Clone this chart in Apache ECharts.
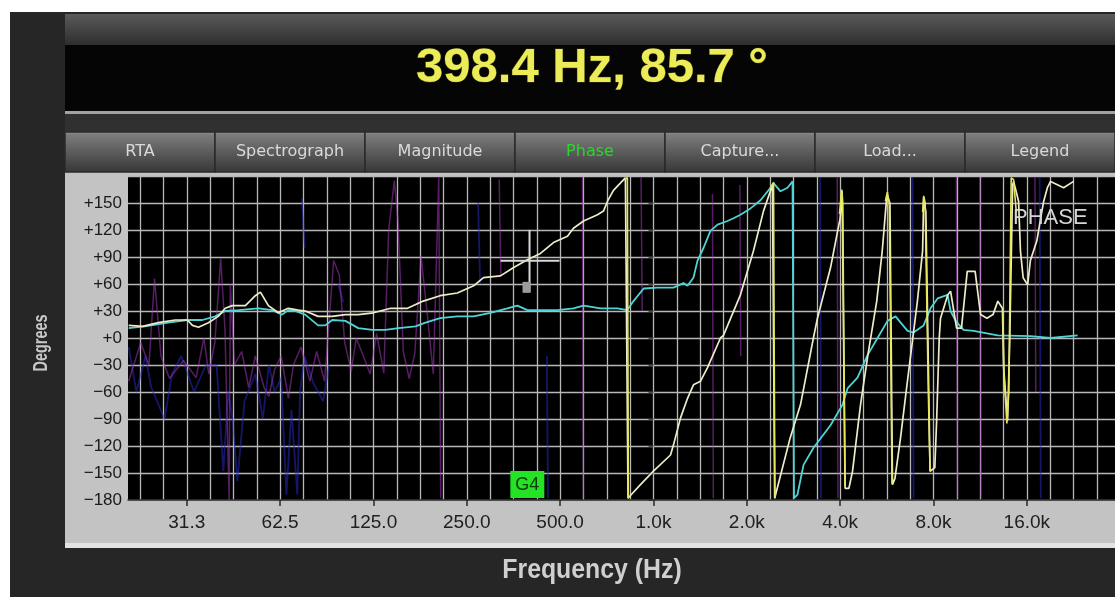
<!DOCTYPE html>
<html>
<head>
<meta charset="utf-8">
<script src="https://cdn.jsdelivr.net/npm/echarts@6/dist/echarts.min.js"></script>
<style>
  html, body { margin: 0; padding: 0; background: #ffffff; }
  #chart { width: 1115px; height: 597px; }
</style>
</head>
<body>
<div id="chart"></div>
<script>
// Cursor readout and note marker
const cursorHz = 398.4;
const cursorDeg = 85.7;
const noteHz = 392.0;
const noteName = 'G4';

// Analyzer view tabs
const tabNames = ['RTA', 'Spectrograph', 'Magnitude', 'Phase', 'Capture...', 'Load...', 'Legend'];
const activeTab = 'Phase';

// Frequency axis (Hz) and its labels
const freqMin = 20.2;
const freqMax = 30800;
const freqLabelHz = [31.25, 62.5, 125, 250, 500, 1000, 2000, 4000, 8000, 16000];
const freqLabels = ['31.3', '62.5', '125.0', '250.0', '500.0', '1.0k', '2.0k', '4.0k', '8.0k', '16.0k'];

// Phase axis (degrees)
const degMin = -180;
const degMax = 180;
const degStep = 30;

// Phase traces: [frequency Hz, phase degrees]; null phase breaks the line
const traceCream = [
  [20.3, 14], [22.5, 13], [25.3, 17], [28.7, 20], [31.4, 20], [32.6, 14], [34.1, 12], [36.7, 17],
  [39.5, 24], [41.6, 33], [43.8, 36], [48.3, 36], [52, 47], [54, 51], [57.3, 36], [61.7, 28],
  [66.4, 33], [71.5, 31], [75.3, 30], [82.9, 24], [92, 24], [101.5, 26], [111.7, 26], [125, 28],
  [142, 33], [161, 33], [181, 41], [205, 47], [233, 50], [263, 58], [283, 67], [321, 69],
  [353, 78], [392, 87], [432, 94], [476, 106], [528, 113], [552, 122], [595, 130], [660, 137],
  [690, 141], [711, 152], [743, 164], [782, 172], [812, 178], [824, 178], [828, -178], [843, -175],
  [908, -163], [1000, -148], [1135, -130], [1160, -119], [1222, -89], [1288, -67], [1346, -52],
  [1418, -48], [1494, -33], [1645, 0], [1682, 3], [1908, 48], [2102, 97], [2264, 141], [2420, 170],
  [2440, 172], [2460, -178],
  [2760, -111], [2981, -74], [3280, 0], [3380, 22], [3724, 78], [4000, 133], [4060, 163], [4150, -167],
  [4270, -167], [4386, -148], [4655, -74], [4915, -19], [5250, 41], [5470, 97], [5660, 159], [5790, 150], [5900, -163],
  [6010, -156], [6264, -111], [6550, -56], [7100, 41], [7380, 97], [7440, 156], [7560, 140], [7800, -148],
  [8080, -144], [8190, -92], [8350, 0], [8430, 22], [8900, 48], [9083, 52], [9500, 11], [9850, 11],
  [10280, 74], [10900, 74], [11350, 26], [11900, 22], [12450, 26], [12900, 41], [13350, 33], [13470, -33],
  [13870, -92], [14100, 0], [14400, 170], [14510, 174], [15050, 152], [15260, 97], [15570, 67], [16100, 59],
  [16430, 86], [17240, 108], [17730, 133], [18140, 152], [18640, 167], [19090, 174], [21030, 167], [22650, 174]
];

const traceCyan = [
  [20.3, 11], [22.9, 13], [27.2, 17], [31.4, 20], [35.1, 20], [38.6, 24], [41.6, 30], [45.9, 31],
  [53.2, 33], [59, 31], [63.5, 26], [66.4, 31], [69.9, 30], [75.3, 26], [82.9, 14], [87.4, 14],
  [92, 20], [101.5, 19], [111.7, 11], [124, 9], [136.6, 9], [150.6, 11], [170.8, 13], [184, 17],
  [205, 22], [233, 24], [263, 24], [298, 28], [338, 33], [364, 36], [392, 31], [432, 31],
  [490, 31], [552, 33], [595, 36], [675, 33], [765, 33], [824, 31], [862, 41], [930, 55],
  [1030, 56], [1160, 56], [1250, 61], [1287, 58], [1346, 67], [1387, 86], [1450, 100], [1527, 119],
  [1609, 126], [1733, 130], [1812, 133], [1908, 137], [2056, 144], [2214, 153], [2385, 167], [2439, 172],
  [2569, 163], [2706, 167], [2809, 174], [2840, -178], [2914, -174], [3048, -141], [3283, -122],
  [3724, -97], [4073, -74], [4226, -56], [4551, -44], [4903, -19], [5281, 0], [5688, 19], [6036, 24],
  [6600, 8], [6900, 6], [7433, 14], [7829, 33], [8248, 44], [8883, 48], [9083, 30], [9430, 19],
  [10000, 9], [10780, 8], [12880, 3], [16460, 2], [19090, 0], [23330, 3]
];

// Bright yellow trace: only its wrap segments show above the others
const traceYellow = [
  [805, 176], [824, 178], [826, 60], [830, -178], [831, null],
  [2380, 166], [2440, 173], [2450, 0], [2465, -178], [2466, null],
  [3980, 138], [4050, 165], [4080, 150], [4110, 0], [4150, -165], [4160, null],
  [5600, 152], [5680, 162], [5760, 150], [5820, 0], [5880, -162], [5890, null],
  [7380, 140], [7440, 158], [7520, 150], [7700, -60], [7800, -148], [7810, null],
  [13400, 30], [13500, -40], [13800, -95], [14000, -60], [14250, 178], [14500, 176], [14800, 140]
];

// Noisy background traces
const traceMagenta = [
  [20.3, -48], [22.2, -5], [23.6, -30], [24.6, 66], [25.8, -20], [27.5, -45], [30.5, -25], [33.5, -44],
  [35.5, 0], [36.8, -40], [38.5, -5], [40.2, 88], [41.5, 10], [42.8, -180], [43.2, 60], [44.5, -30],
  [47, -15], [49.5, -55], [52, -20], [55.5, -55], [57.5, -65], [60, -35], [63, -20], [66.5, -67],
  [69, -30], [73, -10], [78, -48], [82, -15], [87, -48], [93, 86], [97, 70], [101, -5], [106, -37],
  [110, 0], [116, -20], [122, -40], [128, 5], [135, -39], [140, 120], [146, 175], [150, 130],
  [156, -15], [163, -45], [170, -17], [178, 91], [186, 30], [195, -40], [203, 178], [206, -178], [207, null],
  [318, 176], [322, 70], [323, null],
  [590, 178], [594, -178], [595, null],
  [912, 178], [920, 30], [921, null],
  [1550, 160], [1560, -178], [1561, null],
  [1900, 170], [1912, -20], [1913, null],
  [3915, 178], [3935, -178], [3936, null],
  [9480, 178], [9560, -178], [9561, null],
  [11300, 178], [11380, -178], [11381, null],
  [17000, 178], [17100, -60]
];

const traceBlue = [
  [20.3, -10], [21.5, -60], [23, -20], [24, -55], [26.5, -90], [28, -40], [30, -20], [33, -60],
  [36, -30], [39, -30], [41, -148], [42.5, -60], [44, -92], [45.5, -159], [48, -70], [52, -40],
  [55, -90], [57.5, -30], [60, -60], [63, -44], [65.5, -174], [68, -80], [71, -174], [72.5, -60],
  [75, -20], [80, -50], [86, -70], [90, -30], [91, null],
  [73.5, 155], [75, 100], [75.5, null],
  [96, 60], [100, 40], [101, null],
  [272, 150], [276, 60], [277, null],
  [453, -20], [457, -178], [458, null],
  [3450, 178], [3470, -178], [3471, null],
  [6850, 178], [6900, -178], [6901, null],
  [17600, 178], [17750, -178]
];

// The frequency axis is laid out in octaves relative to 1 kHz
const oct = hz => Math.log2(hz / 1000);
const toAxis = arr => arr.map(p => [oct(p[0]), p[1]]);

const xMin = oct(freqMin);
const xMax = oct(freqMax);
const labelOct = freqLabelHz.map(oct);
const gridOct = [];
for (let k = Math.ceil(xMin * 4); k / 4 <= xMax; k++) gridOct.push(k / 4);

const fmtFreq = v => {
  const i = labelOct.findIndex(o => Math.abs(o - v) < 1e-6);
  return i >= 0 ? freqLabels[i] : '';
};
const fmtDeg = v => (v >= 0 ? '+' + v : '\u2212' + (-v));

// Layout of the plot window
const plot = { left: 128, top: 176, width: 987, height: 324 };

const chart = echarts.init(document.getElementById('chart'), null, { renderer: 'canvas' });

// Window chrome
const chrome = [
  { type: 'rect', z: -20, shape: { x: 10, y: 12, width: 1105, height: 585 }, style: { fill: '#262626' } },
  { type: 'rect', z: -19, shape: { x: 65, y: 14, width: 1050, height: 31 },
    style: { fill: new echarts.graphic.LinearGradient(0, 0, 0, 1, [
      { offset: 0, color: '#5a5a5a' }, { offset: 1, color: '#2e2e2e' }]) } },
  { type: 'rect', z: -19, shape: { x: 65, y: 45, width: 1050, height: 66 }, style: { fill: '#050505' } },
  { type: 'rect', z: -19, shape: { x: 65, y: 111, width: 1050, height: 3 }, style: { fill: '#a2a2a2' } },
  { type: 'rect', z: -19, shape: { x: 65, y: 114, width: 1050, height: 18 }, style: { fill: '#303030' } },
  { type: 'rect', z: -19, shape: { x: 65, y: 172, width: 1050, height: 372 }, style: { fill: '#c3c3c3' } },
  { type: 'rect', z: -19, shape: { x: 65, y: 543, width: 1050, height: 5 }, style: { fill: '#e2e2e2' } },
  { type: 'rect', z: -18, shape: { x: plot.left, y: plot.top, width: plot.width, height: plot.height }, style: { fill: '#000000' } },
  { type: 'text', z: 20, style: {
      text: cursorHz.toFixed(1) + ' Hz, ' + cursorDeg.toFixed(1) + ' \u00b0',
      x: 592, y: 68, align: 'center', verticalAlign: 'middle',
      font: 'bold 49px "Liberation Sans", Arial, sans-serif', fill: '#ecec58',
      stroke: '#3a3a10', lineWidth: 1 } },
  { type: 'text', z: 20, x: 592, y: 571, scaleX: 0.92, style: {
      text: 'Frequency (Hz)', x: 0, y: 0, align: 'center', verticalAlign: 'middle',
      font: 'bold 27px "Liberation Sans", Arial, sans-serif', fill: '#cfcfcf' } },
  { type: 'text', z: 20, x: 41, y: 343, rotation: Math.PI / 2, scaleX: 0.72, style: {
      text: 'Degrees', x: 0, y: 0, align: 'center', verticalAlign: 'middle',
      font: 'bold 20px "Liberation Sans", Arial, sans-serif', fill: '#c8c8c8' } },
  { type: 'text', z: 20, style: {
      text: 'PHASE', x: 1013, y: 218, align: 'left', verticalAlign: 'middle',
      font: '22px "Liberation Sans", Arial, sans-serif', fill: '#d6d6d6' } }
];

const tabW = 1050 / tabNames.length;
tabNames.forEach((name, i) => {
  const x0 = 65 + i * tabW;
  chrome.push({ type: 'rect', z: -19, shape: { x: x0, y: 132, width: tabW, height: 40 },
    style: { fill: new echarts.graphic.LinearGradient(0, 0, 0, 1, [
      { offset: 0, color: '#9a9a9a' }, { offset: 0.08, color: '#7c7c7c' },
      { offset: 0.55, color: '#585858' }, { offset: 1, color: '#363636' }]),
      stroke: '#2a2a2a', lineWidth: 1.5 } });
  chrome.push({ type: 'text', z: 20, style: {
    text: name, x: x0 + tabW / 2, y: 152, align: 'center', verticalAlign: 'middle',
    font: '16px "DejaVu Sans", sans-serif', fill: name === activeTab ? '#2ad62a' : '#dadada' } });
});

const lineSeries = (name, data, color, width, z, opacity) => ({
  name, type: 'line', data: toAxis(data), xAxisIndex: 0, yAxisIndex: 0,
  showSymbol: false, symbol: 'none', connectNulls: false, z, silent: true,
  lineStyle: { color, width, opacity: opacity == null ? 1 : opacity },
  emphasis: { disabled: true }
});

const option = {
  animation: false,
  backgroundColor: 'transparent',
  graphic: { elements: chrome },
  grid: { left: plot.left, top: plot.top, width: plot.width, height: plot.height, show: false },
  xAxis: [
    {
      type: 'value', min: xMin, max: xMax, position: 'bottom',
      axisLine: { show: false },
      axisTick: { show: false, customValues: gridOct },
      axisLabel: { show: false, customValues: gridOct },
      splitLine: { show: true, lineStyle: { color: '#b8b8b8', width: 1.3 } }
    },
    {
      type: 'value', min: xMin, max: xMax, position: 'bottom',
      axisLine: { show: true, lineStyle: { color: '#2a2a2a', width: 1.5 } },
      axisTick: { show: true, length: 6, customValues: labelOct, lineStyle: { color: '#2a2a2a', width: 1.5 } },
      axisLabel: { show: true, customValues: labelOct, formatter: fmtFreq, margin: 13,
        color: '#202020', fontSize: 19, fontFamily: '"Liberation Sans", Arial, sans-serif' },
      splitLine: { show: false }
    }
  ],
  yAxis: {
    type: 'value', min: degMin, max: degMax, interval: degStep,
    axisLine: { show: false },
    axisTick: { show: true, length: 5, lineStyle: { color: '#2a2a2a', width: 1.5 } },
    axisLabel: { formatter: fmtDeg, showMaxLabel: false, margin: 6,
      color: '#1a1a1a', fontSize: 17, fontFamily: '"Liberation Sans", Arial, sans-serif' },
    splitLine: { show: true, lineStyle: { color: '#b8b8b8', width: 1.3 } }
  },
  series: [
    lineSeries('blue', traceBlue, '#2b2bd0', 1.8, 2, 0.5),
    lineSeries('magenta', traceMagenta, '#b03cc6', 1.5, 3, 0.5),
    lineSeries('cyan', traceCyan, '#4fd4d6', 1.8, 5),
    lineSeries('cream', traceCream, '#eeecc8', 1.7, 6),
    lineSeries('yellow', traceYellow, '#e6e65a', 1.6, 7),
    {
      name: 'cursor', type: 'custom', z: 10, silent: true,
      data: [[oct(cursorHz), cursorDeg]],
      renderItem: (params, api) => {
        const p = api.coord([api.value(0), api.value(1)]);
        const st = { stroke: '#d8d8d8', lineWidth: 2 };
        return { type: 'group', children: [
          { type: 'line', shape: { x1: p[0] - 29, y1: p[1], x2: p[0] + 30, y2: p[1] }, style: st },
          { type: 'line', shape: { x1: p[0], y1: p[1] - 31, x2: p[0], y2: p[1] + 31 }, style: st },
          { type: 'rect', shape: { x: p[0] - 7, y: p[1] + 21, width: 8, height: 11 }, style: { fill: '#9c9c9c' } }
        ] };
      }
    },
    {
      name: 'note', type: 'custom', z: 11, silent: true,
      data: [[oct(noteHz), degMin, noteName]],
      renderItem: (params, api) => {
        const p = api.coord([api.value(0), api.value(1)]);
        return { type: 'group', children: [
          { type: 'rect', shape: { x: p[0] - 17, y: p[1] - 29, width: 34, height: 27 }, style: { fill: '#24e224' } },
          { type: 'text', style: { text: noteName, x: p[0], y: p[1] - 15, align: 'center', verticalAlign: 'middle',
            font: '18px "Liberation Sans", Arial, sans-serif', fill: '#0c3a0c' } }
        ] };
      }
    }
  ]
};

chart.setOption(option);
</script>
</body>
</html>
